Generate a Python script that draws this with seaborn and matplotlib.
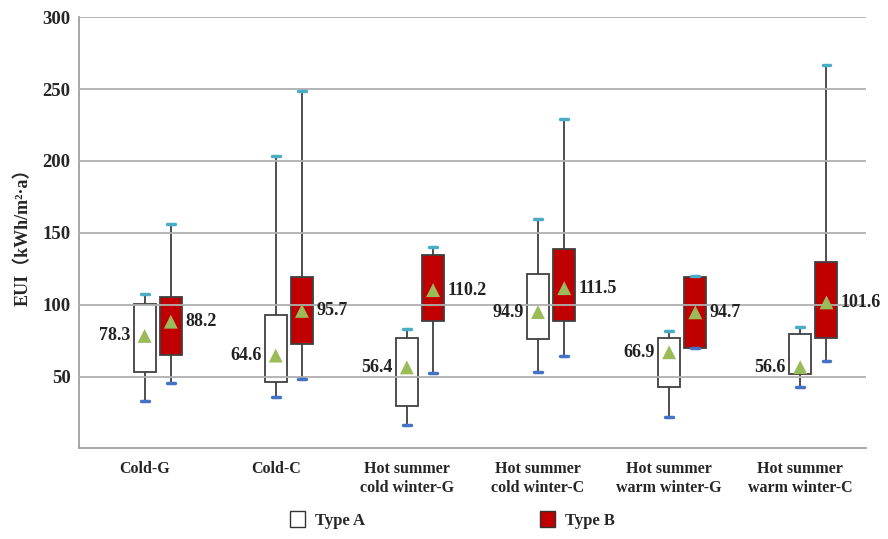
import numpy as np
import pandas as pd
import seaborn as sns
import matplotlib.pyplot as plt
from matplotlib.patches import Patch

# climate zone categories (G / C = building groups)
zones = ['Cold-G', 'Cold-C', 'Hot summer\ncold winter-G', 'Hot summer\ncold winter-C',
         'Hot summer\nwarm winter-G', 'Hot summer\nwarm winter-C']

# box statistics (kWh/m2·a)
a_min = [33.0, 36.1, 16.4, 53.5, 22.1, 42.6]
a_q1 = [53.0, 46.1, 29.8, 75.8, 43.0, 51.9]
a_q3 = [100.8, 93.0, 76.7, 121.3, 76.7, 79.5]
a_max = [107.4, 203.2, 83.2, 159.8, 81.8, 84.8]
a_mean = [78.3, 64.6, 56.4, 94.9, 66.9, 56.6]

b_min = [45.4, 48.4, 52.8, 64.4, 69.8, 60.9]
b_q1 = [65.1, 72.6, 89.0, 89.0, 69.8, 76.7]
b_q3 = [105.5, 119.2, 134.3, 138.9, 119.5, 129.7]
b_max = [156.3, 248.5, 140.1, 229.5, 120.1, 266.6]
b_mean = [88.2, 95.7, 110.2, 111.5, 94.7, 101.6]

b_shift = 0.2  # Type B box sits to the right of Type A

rows = []
for i in range(len(zones)):
    med = min(max(a_mean[i], a_q1[i]), a_q3[i])
    for v in [a_min[i], a_q1[i], med, a_q3[i], a_max[i]]:
        rows.append({'pos': i, 'EUI': v, 'type': 'Type A'})
    med = min(max(b_mean[i], b_q1[i]), b_q3[i])
    for v in [b_min[i], b_q1[i], med, b_q3[i], b_max[i]]:
        rows.append({'pos': i + b_shift, 'EUI': v, 'type': 'Type B'})
df = pd.DataFrame(rows)

means = pd.DataFrame({
    'pos': list(range(len(zones))) + [i + b_shift for i in range(len(zones))],
    'EUI': a_mean + b_mean,
})

sns.set_style('white')
plt.rcParams['font.family'] = ['Liberation Serif', 'Noto Sans CJK SC', 'DejaVu Serif']
plt.rcParams['font.weight'] = 'bold'

fig = plt.figure(figsize=(8.88, 5.39), dpi=100)
ax = fig.add_axes([0.089, 0.168, 0.886, 0.8])

sns.boxplot(data=df, x='pos', y='EUI', hue='type', native_scale=True, dodge=False,
            palette={'Type A': 'white', 'Type B': '#c00000'}, saturation=1,
            width=0.84, whis=(0, 100), linecolor='#404040', linewidth=1.3,
            medianprops={'linewidth': 0}, legend=False, ax=ax)

# boxes go under the grid so the gridlines show through, as in the original
for p in ax.patches:
    p.set_zorder(1)
for ln in ax.lines:
    ln.set_zorder(1.2)

# narrow blue caps like the original
for cont in ax.containers:
    caps = getattr(cont, 'caps', [])
    for k, cap in enumerate(caps):
        xd = cap.get_xdata()
        c = np.mean(xd)
        cap.set_xdata([c - 0.03, c + 0.03])
        cap.set_color('#4472c4' if k % 2 == 0 else '#4bacc6')
        cap.set_linewidth(2.5)
        cap.set_zorder(3)

sns.scatterplot(data=means, x='pos', y='EUI', marker='^', s=100, color='#9bbb59',
                edgecolor='none', zorder=4, ax=ax)

for i in range(len(zones)):
    ax.text(i - 0.11, a_mean[i], f'{a_mean[i]:.1f}', ha='right', va='center',
            fontsize=13, fontweight='bold', color='#222222')
    ax.text(i + b_shift + 0.11, b_mean[i], f'{b_mean[i]:.1f}', ha='left', va='center',
            fontsize=13, fontweight='bold', color='#222222')

ax.set_ylim(0, 300)
ax.set_yticks([50, 100, 150, 200, 250, 300])
ax.tick_params(axis='y', labelsize=13.5, length=0, pad=6)
ax.grid(axis='y', color='#b0b0b0', linewidth=1.3)
ax.set_axisbelow(False)

ax.set_xlim(-0.5, len(zones) - 0.5)
ax.set_xticks(np.arange(-0.5, len(zones), 1.0))
ax.set_xticklabels([])
ax.set_xticks(np.arange(len(zones)), minor=True)
ax.set_xticklabels(zones, minor=True, fontsize=11.5, fontweight='bold', linespacing=1.25)
ax.tick_params(axis='x', which='major', length=5, color='#a0a0a0', direction='out')
ax.tick_params(axis='x', which='minor', length=0, pad=9)

ax.set_xlabel('')
ax.set_ylabel('EUI（kWh/m²·a）', fontsize=13, fontweight='bold', labelpad=8)

for side in ['top', 'right']:
    ax.spines[side].set_visible(False)
for side in ['left', 'bottom']:
    ax.spines[side].set_color('#a0a0a0')
    ax.spines[side].set_linewidth(1.3)

handles = [Patch(facecolor='white', edgecolor='#333333', label='Type A'),
           Patch(facecolor='#c00000', edgecolor='#333333', label='Type B')]
fig.legend(handles=handles, loc='center', bbox_to_anchor=(0.51, 0.035), ncol=2,
           frameon=False, fontsize=12, handlelength=0.9, handleheight=1.1,
           columnspacing=10.5, handletextpad=0.6)

fig.savefig('out.png', dpi=100)
